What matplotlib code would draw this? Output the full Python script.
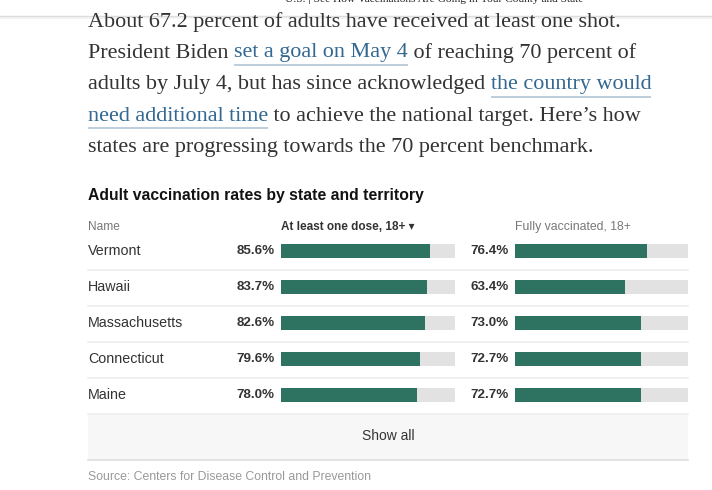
import matplotlib.pyplot as plt
from matplotlib.patches import Rectangle

# ---- data ----
states = ['Vermont', 'Hawaii', 'Massachusetts', 'Connecticut', 'Maine']
one_dose = [85.6, 83.7, 82.6, 79.6, 78.0]
fully_vax = [76.4, 63.4, 73.0, 72.7, 72.7]

title = 'Adult vaccination rates by state and territory'
col_labels = ['Name', 'At least one dose, 18+ \u25be', 'Fully vaccinated, 18+']
source = 'Source: Centers for Disease Control and Prevention'

# article text: (text, is_link) segments per line
article = [
    [('About 67.2 percent of adults have received at least one shot.', False)],
    [('President Biden ', False), ('set a goal on May 4', True), (' of reaching 70 percent of', False)],
    [('adults by July 4, but has since acknowledged ', False), ('the country would', True)],
    [('need additional time', True), (' to achieve the national target. Here\u2019s how', False)],
    [('states are progressing towards the 70 percent benchmark.', False)],
]

GREEN = '#2e7262'
TRACK = '#e2e2e2'
DARK = '#333333'
GRAY = '#777777'
LINK = '#326891'

sans = ['Liberation Sans', 'DejaVu Sans']
serif = ['Liberation Serif']

W, H = 712, 490
fig = plt.figure(figsize=(W / 100, H / 100), dpi=100)
ax = fig.add_axes([0, 0, 1, 1])
ax.set_xlim(0, W)
ax.set_ylim(H, 0)
ax.axis('off')
fig.canvas.draw()
renderer = fig.canvas.get_renderer()

# top header strip (cut off by the page scroll)
ax.text(434, 0, 'U.S. | See How Vaccinations Are Going in Your County and State',
        ha='center', va='center', fontsize=8.2, family=serif, color='#222')
ax.axhline(16.5, color='#dddddd', lw=1)
ax.add_patch(Rectangle((0, 17), W, 2, color='#f4f4f4', lw=0))

# article paragraph, font size fitted to the first line width
probe = ax.text(0, 0, article[0][0][0], fontsize=10, family=serif)
art_size = 10 * 533 / probe.get_window_extent(renderer).width
probe.remove()

line_y = [22, 53, 85, 116, 147]
for segs, y in zip(article, line_y):
    x = 88
    for txt, is_link in segs:
        t = ax.text(x, y, txt, ha='left', va='center', fontsize=art_size, family=serif,
                    color=LINK if is_link else DARK)
        w = t.get_window_extent(renderer).width
        if is_link:
            ax.plot([x, x + w], [y + 12, y + 12], color='#b7c9d8', lw=1.3,
                    solid_capstyle='butt')
        x += w

# chart title and column headers
ax.text(88, 195, title, ha='left', va='center', fontsize=11.3, fontweight='bold',
        family=sans, color='#121212')
ax.text(88, 227, col_labels[0], ha='left', va='center', fontsize=8.6, family=sans, color=GRAY)
ax.text(281, 227, col_labels[1], ha='left', va='center', fontsize=8.5, family=sans,
        fontweight='bold', color=DARK)
ax.text(515, 227, col_labels[2], ha='left', va='center', fontsize=8.8, family=sans, color=GRAY)

# row names and separators
row_y = [251 + 36 * i for i in range(len(states))]
for name, y in zip(states, row_y):
    ax.text(88, y, name, ha='left', va='center', fontsize=10.3, family=sans, color=DARK)
for y in row_y:
    ax.plot([88, 688], [y + 19, y + 19], color='#eeeeee', lw=1.2)

# show all box
ax.add_patch(Rectangle((88, 414), 600, 46, facecolor='#f7f7f7', edgecolor='none'))
ax.plot([88, 688], [460, 460], color='#dedede', lw=1.2)
ax.text(388, 436, 'Show all', ha='center', va='center', fontsize=10, family=sans, color=DARK)

ax.text(88, 477, source, ha='left', va='center', fontsize=8.8, family=sans, color='#999999')


# bar columns
def bar_col(x0, x1, vals):
    top, bottom = 233, 233 + 36 * len(vals)
    bax = fig.add_axes([x0 / W, 1 - bottom / H, (x1 - x0) / W, (bottom - top) / H])
    bax.set_xlim(0, 100)
    bax.set_ylim(len(vals) - 0.5, -0.5)
    bax.axis('off')
    pos = list(range(len(vals)))
    bax.barh(pos, [100] * len(vals), height=0.37, color=TRACK, lw=0)
    bax.barh(pos, vals, height=0.37, color=GREEN, lw=0)
    for p, v in zip(pos, vals):
        bax.annotate(f'{v:.1f}%', (0, p), xytext=(-4.5, 0), textcoords='offset points',
                     ha='right', va='center', fontsize=9.6, fontweight='bold',
                     family=sans, color=DARK)


bar_col(281, 455, one_dose)
bar_col(515, 688, fully_vax)

fig.savefig('out.png', dpi=100)
